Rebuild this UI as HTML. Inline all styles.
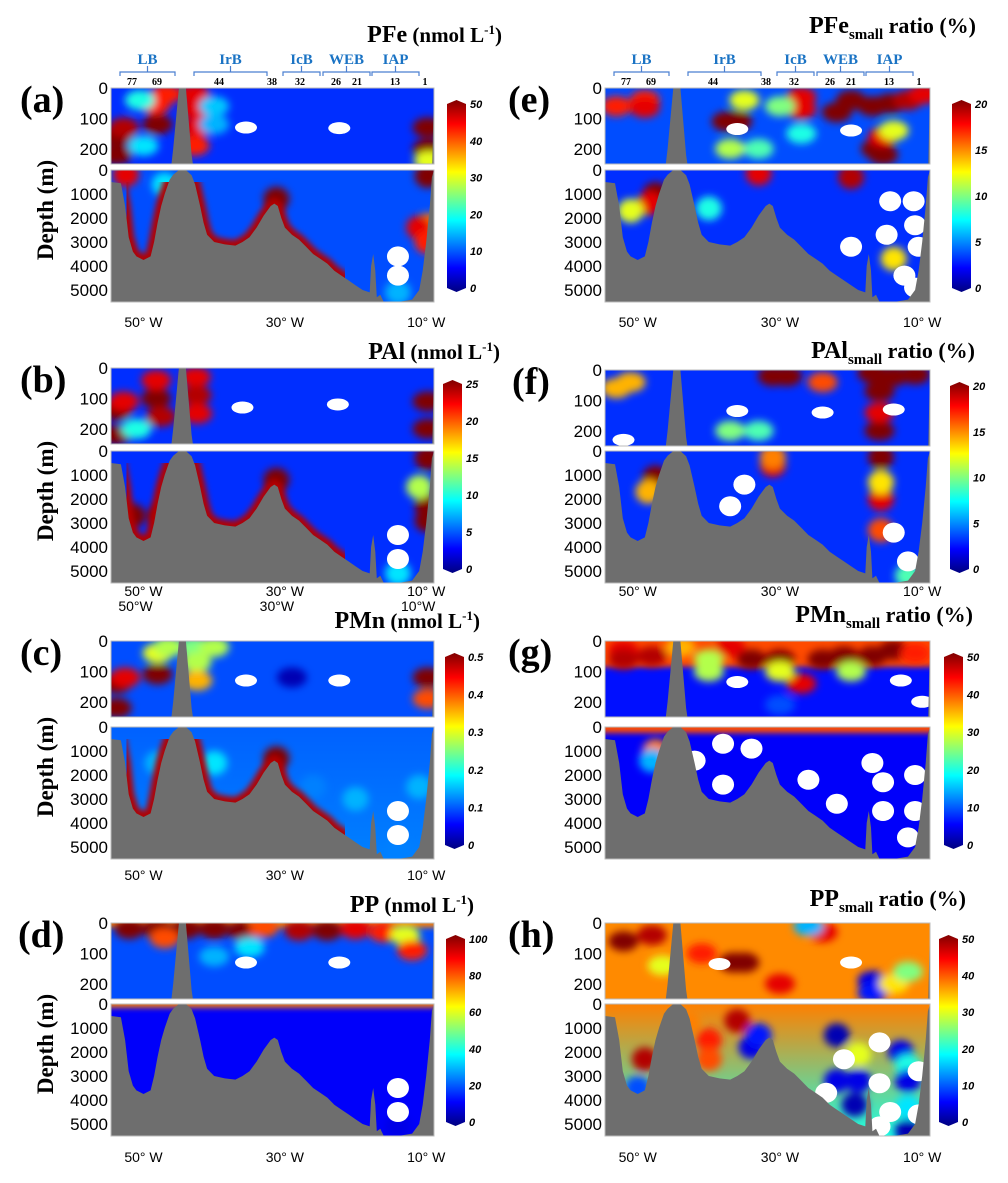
<!DOCTYPE html>
<html><head><meta charset="utf-8"><style>
html,body{margin:0;padding:0;background:#fff;width:1008px;height:1183px;overflow:hidden}
svg{display:block}
</style></head><body>
<svg id="fig" width="1008" height="1183" viewBox="0 0 1008 1183" xmlns="http://www.w3.org/2000/svg">
<defs>
<filter id="blur" x="-50%" y="-50%" width="200%" height="200%"><feGaussianBlur stdDeviation="4"/></filter>
<filter id="blur2" x="-20%" y="-50%" width="140%" height="200%"><feGaussianBlur stdDeviation="3"/></filter>
</defs>
</svg>
<script>
// ---- shared bathymetry (longitude °W, depth m) ----
const bathyLon=[54.6,53.2,52.6,52.1,51.5,51,50,49,48.5,48,47.5,47,46.3,45.8,45,44,43.2,42.7,42,41.5,41,40,38.5,37,36,35,34,33,32,31.5,31,30.5,30,29,28,27,26,25,24,23,22,21,20,19,18,17.8,17.5,17.2,17,16.5,16,14,12,11,10.5,10,9.5,9.2,8.9];
const bathyDepth=[500,550,1500,2800,3400,3600,3750,3600,3000,2200,1500,1000,400,200,0,0,220,600,1500,2200,2700,3000,3100,3150,3000,2800,2400,1900,1500,1400,1500,2000,2400,2700,2900,3200,3500,3700,3900,4200,4400,4600,4800,5000,5100,4000,3500,4200,5300,5200,5500,5500,5400,5000,4200,3000,1500,300,0];
const upperTicks=[0,100,200];
const lowerTicks=[0,1000,2000,3000,4000,5000];
const lonTicks=[50,30,10];
const sectionNames=['LB','IrB','IcB','WEB','IAP'];
const stationNames=['77','69','44','38','32','26','21','13','1'];
const stationX=[132,157,219,272,300,336,357,395,425];
// ---- colorbar tick labels ----
const ticksA=[0,10,20,30,40,50], ticksB=[0,5,10,15,20,25], ticksC=[0,0.1,0.2,0.3,0.4,0.5], ticksD=[0,20,40,60,80,100];
const ticksE=[0,5,10,15,20], ticksG=[0,10,20,30,40,50];
// ---- field blobs [lon, depth, value(0-1 of scale), -1 = no data] ----
const aUpper=[[53.8,160,1],[53.8,220,1],[52.8,130,0.95],[48,120,1],[48.3,55,0.85],[46.8,20,0.85],[42.8,20,0.9],[42.6,70,0.9],[42.4,130,0.9],[42.8,190,0.85],[50.5,40,0.4],[50,190,0.35],[9.8,130,1],[9.8,200,1],[9.6,240,0.6],[40,60,0.32],[40,120,0.3],[35.5,130,-1],[22.3,132,-1]];
const aLower=[[9.8,250,1],[9.8,2300,0.75],[11,2400,0.9],[9.8,3000,0.85],[14,3600,-1],[14,4400,-1],[14,5100,0.3],[31.2,1200,1],[47,600,0.35],[52.5,200,0.9]];
const bUpper=[[53.8,140,1],[53.8,220,1],[52.8,110,0.9],[48.2,100,1],[48.2,40,0.9],[47.5,160,0.95],[42.6,30,0.9],[42.5,90,0.95],[42.4,150,0.9],[9.8,110,1],[9.8,200,1],[51,200,0.4],[36,130,-1],[22.5,120,-1]];
const bLower=[[9.8,300,1],[9.8,2300,1],[9.8,2900,1],[11,1500,0.55],[14,3500,-1],[14,4500,-1],[14,5100,0.35],[31.2,1200,1],[51.5,2700,1],[47.5,2700,1]];
const cUpper=[[53.8,140,1],[53.8,220,1],[52.6,120,0.9],[48,110,1],[48,40,0.6],[46.5,20,0.55],[42.8,20,0.5],[42.5,70,0.55],[42.4,130,0.7],[40,20,0.55],[9.8,120,1],[9.8,190,0.8],[35.5,130,-1],[22.3,130,-1],[29,120,0.05]];
const cLower=[[14,3500,-1],[14,4500,-1],[14,5100,0.25],[31.2,1300,1],[11,2500,0.3],[20,3000,0.3],[26,2500,0.25],[40,1500,0.35],[48,1500,0.3]];
const dUpper=[[52,20,1],[48,20,1],[44,20,1],[40,20,1],[36,25,1],[33,15,0.8],[28,25,0.95],[24,25,1],[20,20,0.9],[16,30,0.85],[13,40,0.6],[47,50,0.8],[12,90,0.85],[35.5,130,-1],[22.3,130,-1],[35,80,0.35],[40,110,0.3]];
const dLower=[[14,3500,-1],[14,4500,-1],[14,5100,0.1]];
const eUpper=[[37.5,110,1],[36,110,1],[37,200,0.55],[33,200,0.45],[16.5,200,1],[15.5,220,1],[15.5,160,0.9],[14,140,0.6],[22,80,1],[20,40,1],[17,60,1],[14.5,50,1],[12,40,0.95],[9.8,20,0.9],[27,30,0.9],[27,70,0.9],[53,60,0.85],[49,40,0.85],[49,65,0.9],[35,40,0.6],[30,60,0.5],[36,135,-1],[20,140,-1],[27,150,0.4]];
const eLower=[[47.5,1000,1],[48.3,1400,0.9],[51,1700,0.6],[14,3700,0.65],[33,150,0.9],[20,300,0.95],[40,1600,0.4],[14.5,1300,-1],[11.2,1300,-1],[11,2300,-1],[10.5,3200,-1],[12.5,4400,-1],[11,4900,-1],[20,3200,-1],[15,2700,-1]];
const fUpper=[[16,200,1],[16,140,0.9],[37,200,0.5],[33,200,0.45],[29,20,1],[31,20,1],[17,10,1],[14,20,1],[11,15,1],[16,70,1],[53,60,0.7],[51,40,0.7],[24,40,0.8],[36,135,-1],[24,140,-1],[14,130,-1],[52,230,-1]];
const fLower=[[47.5,1100,1],[48.5,1700,0.7],[15.8,2000,0.9],[15.8,1300,0.65],[15.8,3300,0.8],[15.8,250,1],[31,600,0.9],[31,250,0.75],[12,5200,0.45],[35,1400,-1],[37,2300,-1],[14,3400,-1],[12,4600,-1],[46,2300,-1]];
const gUpper=[[52,30,0.9],[52,60,0.95],[48,50,0.95],[44,20,0.7],[40,60,0.55],[37,20,0.9],[34,60,1],[30,60,1],[27,140,0.9],[24,60,1],[21,50,1],[17,50,1],[14,30,1],[11,40,0.85],[40,100,0.55],[20,100,0.55],[30,100,0.6],[36,135,-1],[13,130,-1],[10,200,-1],[30,210,0.2]];
const gLower=[[47.5,1000,0.75],[48,1400,0.3],[38,700,-1],[38,2400,-1],[34,900,-1],[26,2200,-1],[22,3200,-1],[17,1500,-1],[15.5,2300,-1],[15.5,3500,-1],[12,4600,-1],[11,2000,-1],[11,3500,-1],[42,1400,-1]];
const hUpper=[[35,130,1],[36.5,130,1],[52,60,1],[48,40,0.95],[17,190,0.1],[17,230,0.15],[14,200,0.65],[41,100,0.85],[24,30,0.9],[30,200,0.9],[46.5,140,0.6],[38.5,135,-1],[20,130,-1],[12,160,0.5],[26,10,0.3]];
const hLower=[[49,2300,0.95],[40,1500,0.85],[40,2300,0.8],[36,700,0.95],[34,1800,0.1],[33,1300,0.15],[22,1300,0.05],[19,2100,0.6],[19,3200,0.1],[13,2000,0.1],[12,2600,0.4],[12,3200,0.1],[12,4300,0.35],[12,5300,0.05],[22,3200,0.1],[19.5,4200,0.05],[50,3500,0.2],[43,800,0.75],[21,2300,-1],[16,1600,-1],[16,3300,-1],[14.5,4500,-1],[10.5,2800,-1],[10.5,4600,-1],[16,5100,-1],[23.5,3700,-1]];
// [bgUpper, bgLowerTop, bandValue, bandDepthUpper, bgLowerDeep, bandDepthLower]
const bgA=[0.17,0.2,0.17,0,0.2,0], bgB=[0.17,0.17,0.17,0,0.17,0], bgC=[0.2,0.22,0.2,0,0.25,0], bgD=[0.2,0.12,0.75,15,0.12,150];
const bgE=[0.2,0.17,0.2,0,0.17,0], bgF=[0.17,0.17,0.17,0,0.17,0], bgG=[0.14,0.12,0.8,85,0.12,250], bgH=[0.74,0.75,0.74,0,0.4,0];
const slopeA=1, slopeB=1, slopeC=1;

function jet(v){
  v=Math.max(0,Math.min(1,v));
  const f=(x)=>Math.max(0,Math.min(1,x));
  const r=f(Math.min(4*v-1.5,-4*v+4.5)), g=f(Math.min(4*v-0.5,-4*v+3.5)), b=f(Math.min(4*v+0.5,-4*v+2.5));
  return 'rgb('+Math.round(r*255)+','+Math.round(g*255)+','+Math.round(b*255)+')';
}
const NS='http://www.w3.org/2000/svg';
const svg=document.getElementById('fig');
function mk(tag,attrs,parent){const e=document.createElementNS(NS,tag);for(const k in attrs)e.setAttribute(k,attrs[k]);(parent||svg).appendChild(e);return e;}
let clipId=0;

function drawLayer(g,x0,w,top,h,scale,maxD,bg,deep,bandVal,bandDepth,blobs,slope,isUpper){
  const xOf=(lon)=>x0+(54.6-lon)*(w/45.7);
  const yOf=(d)=>top+d*scale;
  const id='c'+(clipId++);
  const cp=mk('clipPath',{id:id},g); mk('rect',{x:x0,y:top,width:w,height:h},cp);
  const L=mk('g',{'clip-path':'url(#'+id+')'},g);
  const gid='lg'+id;
  const lg=mk('linearGradient',{id:gid,x1:0,y1:0,x2:0,y2:1},g);
  mk('stop',{offset:'0','stop-color':jet(bg)},lg);
  mk('stop',{offset:'1','stop-color':jet(deep)},lg);
  const field=mk('rect',{x:x0,y:top,width:w,height:h,fill:'url(#'+gid+')'},L);
  
  
  if(bandDepth>0){const b=mk('rect',{x:x0-10,y:top-10,width:w+20,height:bandDepth*scale+10,fill:jet(bandVal),filter:'url(#blur2)'},L);
    }
  const bl=mk('g',{filter:'url(#blur)'},L);
  blobs.forEach(p=>{ if(p[2]<0)return;
    const c=mk('ellipse',{cx:xOf(p[0]),cy:yOf(p[1]),rx:isUpper?15:13,ry:isUpper?10:12,fill:jet(p[2])},bl);
    
    
  });
  blobs.forEach(p=>{ if(p[2]>=0)return;
    const c=mk('ellipse',{cx:xOf(p[0]),cy:yOf(p[1]),rx:isUpper?11:11,ry:isUpper?6:10,fill:'#fff'},L);
    
    
  });
  let pts=[];
  for(let i=0;i<bathyLon.length;i++)pts.push(xOf(bathyLon[i]).toFixed(1)+','+yOf(Math.min(bathyDepth[i],maxD+50)).toFixed(1));
  const poly=pts.join(' ')+' '+(x0+w+5)+','+(top+h+5)+' '+(x0-5)+','+(top+h+5);
  if(slope>0 && !isUpper){
    const id2='s'+(clipId++);
    const cp2=mk('clipPath',{id:id2},g); mk('rect',{x:xOf(52.4),y:top+12,width:xOf(21.5)-xOf(52.4),height:h},cp2);
    const s=mk('polygon',{points:poly,fill:'none',stroke:jet(slope*0.95),'stroke-width':11,'clip-path':'url(#'+id2+')',filter:'url(#blur2)'},L);
    
  }
  const bp=mk('polygon',{points:poly,fill:'#6e6e6e'},L);
  
  
  const fr=mk('rect',{x:x0,y:top,width:w,height:h,fill:'none',stroke:'#bbb','stroke-width':1},g);
  
}

function panel(o){
  const g=mk('g',{});
  
  
  const uh=76, lh=132;
  drawLayer(g,o.x0,o.w,o.ut,uh,uh/250,250,o.bg[0],o.bg[0],o.bg[2],o.bg[3],o.up,0,true);
  drawLayer(g,o.x0,o.w,o.lt,lh,lh/5500,5500,o.bg[1],o.bg[4],o.bg[2],o.bg[5],o.lo,o.slope||0,false);
  upperTicks.forEach(t=>{const e=mk('text',{x:o.x0-3,y:o.ut+t*uh/250+6,'text-anchor':'end','font-size':17,'font-family':'Liberation Sans, sans-serif'},g);e.textContent=t;
    });
  lowerTicks.forEach(t=>{const e=mk('text',{x:o.x0-3,y:o.lt+t*lh/5500+6,'text-anchor':'end','font-size':17,'font-family':'Liberation Sans, sans-serif'},g);e.textContent=t;
    });
  const L=mk('text',{x:o.lx,y:o.ut+24,'font-size':38,'font-weight':'bold','font-family':'Liberation Serif, serif'},g);L.textContent='('+o.letter+')';
  
  if(o.depthLabel){const d=mk('text',{x:0,y:0,'font-size':23,'font-weight':'bold','font-family':'Liberation Serif, serif','text-anchor':'middle',transform:'translate(53,'+(o.lt+40)+') rotate(-90)'},g);d.textContent='Depth (m)';
    }
  const T=mk('text',{x:o.tx,y:o.ty,'text-anchor':'end','font-weight':'bold','font-family':'Liberation Serif, serif','font-size':22},g);
  
  o.title(T);
  if(o.lonY){ lonTicks.forEach(l=>{const xx=o.x0+(54.6-l)*(o.w/45.7);
    const t=mk('text',{x:xx,y:o.lonY,'text-anchor':'middle','font-size':14,'font-family':'Liberation Sans, sans-serif'},g);t.textContent=l+'°  W';
    
    if(o.lonY2){const t2=mk('text',{x:xx-8,y:o.lonY2,'text-anchor':'middle','font-size':14,'font-family':'Liberation Sans, sans-serif'},g);t2.textContent=l+'°W';
      }
  });}
  const cx=o.cbx, cy=o.ut+12, ch=(o.lt+lh-10)-cy, cw=19;
  const gid='cb'+o.letter;
  const lg=mk('linearGradient',{id:gid,x1:0,y1:1,x2:0,y2:0},g);
  for(let i=0;i<=8;i++)mk('stop',{offset:i/8,'stop-color':jet(i/8)},lg);
  const cb=mk('path',{d:'M'+cx+','+(cy+4)+' L'+(cx+cw/2)+','+cy+' L'+(cx+cw)+','+(cy+4)+' L'+(cx+cw)+','+(cy+ch-4)+' L'+(cx+cw/2)+','+(cy+ch)+' L'+cx+','+(cy+ch-4)+'Z',fill:'url(#'+gid+')'},g);
  
  const n=o.ticks.length-1;
  o.ticks.forEach((t,i)=>{const yy=cy+ch-4-i*(ch-8)/n;
    const e=mk('text',{x:cx+cw+4,y:yy+4,'font-size':11,'font-style':'italic','font-weight':'bold','font-family':'Liberation Sans, sans-serif'},g);e.textContent=t;
    });
  if(o.sections){
    const off=o.x0-111;
    const bx=[[120,175],[194,267],[283,320],[323,370],[372,419]];
    sectionNames.forEach((s,i)=>{const a=bx[i][0]+off,b=bx[i][1]+off,m=(a+b)/2;
      const p=mk('path',{d:'M'+a+',76 L'+a+',72 L'+b+',72 L'+b+',76 M'+m+',72 L'+m+',66',fill:'none',stroke:'#4a7fd0','stroke-width':1.2},g);
      
      const t=mk('text',{x:m,y:64,'text-anchor':'middle','font-size':15,'font-weight':'bold','fill':'#1a73c4','font-family':'Liberation Serif, serif'},g);t.textContent=s;
      });
    stationNames.forEach((s,i)=>{const t=mk('text',{x:stationX[i]+off,y:85,'text-anchor':'middle','font-size':10,'font-weight':'bold','font-family':'Liberation Serif, serif'},g);t.textContent=s;
      });
  }
}
function titleFn(main,sub,rest){return (T)=>{
  const a=mk('tspan',{'font-size':24},T);a.textContent=main;
  if(sub){const b=mk('tspan',{'font-size':15,dy:6},T);b.textContent=sub;const c=mk('tspan',{'font-size':22,dy:-6},T);c.textContent=' '+rest;}
  else{const c=mk('tspan',{'font-size':21},T);c.textContent=' (nmol L';const d=mk('tspan',{'font-size':13,dy:-8},T);d.textContent='-1';const e=mk('tspan',{'font-size':21,dy:8},T);e.textContent=')';}
};}
const LX=111,LW=323,RX=605,RW=325;
panel({letter:'a',x0:LX,w:LW,ut:88,lt:170,up:aUpper,lo:aLower,bg:bgA,slope:slopeA,ticks:ticksA,cbx:447,lx:20,depthLabel:true,tx:502,ty:42,title:titleFn('PFe'),lonY:327,sections:true});
panel({letter:'b',x0:LX,w:LW,ut:368,lt:451,up:bUpper,lo:bLower,bg:bgB,slope:slopeB,ticks:ticksB,cbx:443,lx:20,depthLabel:true,tx:500,ty:359,title:titleFn('PAl'),lonY:596,lonY2:611});
panel({letter:'c',x0:LX,w:LW,ut:641,lt:727,up:cUpper,lo:cLower,bg:bgC,slope:slopeC,ticks:ticksC,cbx:445,lx:20,depthLabel:true,tx:480,ty:628,title:titleFn('PMn'),lonY:880});
panel({letter:'d',x0:LX,w:LW,ut:923,lt:1004,up:dUpper,lo:dLower,bg:bgD,ticks:ticksD,cbx:446,lx:18,depthLabel:true,tx:474,ty:912,title:titleFn('PP'),lonY:1162});
panel({letter:'e',x0:RX,w:RW,ut:88,lt:170,up:eUpper,lo:eLower,bg:bgE,ticks:ticksE,cbx:952,lx:508,tx:976,ty:33,title:titleFn('PFe','small','ratio (%)'),lonY:327,sections:true});
panel({letter:'f',x0:RX,w:RW,ut:370,lt:451,up:fUpper,lo:fLower,bg:bgF,ticks:ticksE,cbx:950,lx:512,tx:975,ty:358,title:titleFn('PAl','small','ratio (%)'),lonY:596});
panel({letter:'g',x0:RX,w:RW,ut:641,lt:727,up:gUpper,lo:gLower,bg:bgG,ticks:ticksG,cbx:944,lx:508,tx:973,ty:622,title:titleFn('PMn','small','ratio (%)')});
panel({letter:'h',x0:RX,w:RW,ut:923,lt:1004,up:hUpper,lo:hLower,bg:bgH,ticks:ticksG,cbx:939,lx:508,tx:966,ty:906,title:titleFn('PP','small','ratio (%)'),lonY:1162});
</script>
</body></html>
